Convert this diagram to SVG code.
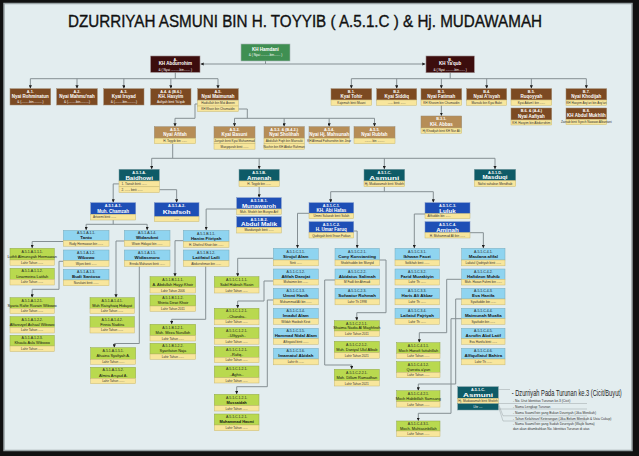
<svg xmlns="http://www.w3.org/2000/svg" width="639" height="456" viewBox="0 0 639 456">
<style>
.f{font-family:"Liberation Sans",Arial,Helvetica,sans-serif;text-anchor:middle}
.L{font-size:3.8px;font-weight:bold;fill:#fff}
.N{font-size:4.5px;font-weight:bold;fill:#fff}
.S{font-size:3.2px;fill:#fff}
.NB{font-size:6.2px;font-weight:bold;fill:#fff}
.l{font-size:3.5px;fill:#222}
.n{font-size:4.4px;font-weight:bold;fill:#111}
.g{font-size:3.9px;fill:#111}
.s{font-size:3.1px;fill:#333}
.sl{text-anchor:start}
.mar{fill:#3c0d0d;stroke:#9a8a8a;stroke-width:.6}
.grn{fill:#3f8f52;stroke:#a9b5b5;stroke-width:.6}
.brn{fill:#7c4a22;stroke:#a08a70;stroke-width:.5}
.tan{fill:#b68d57;stroke:#9a8a70;stroke-width:.5}
.tea{fill:#0e5b67;stroke:#7a9aa0;stroke-width:.5}
.blu{fill:#1e4fb6;stroke:#7f95c8;stroke-width:.5}
.lb{fill:#8fd4f0;stroke:#7aaabb;stroke-width:.5}
.lm{fill:#b9d94f;stroke:#8fa748;stroke-width:.5}
.ye{fill:#f8e69c;stroke:#c8b870;stroke-width:.5}
.c{fill:none;stroke:#858f93;stroke-width:1}
.a{marker-end:url(#ar)}
.lg{fill:none;stroke:#8a9396;stroke-width:.4}
</style>
<defs>
<marker id="ar" viewBox="0 0 6 6" refX="6" refY="3" markerWidth="3.2" markerHeight="3.2" markerUnits="userSpaceOnUse" orient="auto"><path d="M0,0L6,3L0,6z" fill="#1c1c1c"/></marker>
</defs>
<rect x="0" y="0" width="639" height="456" fill="#111"/>
<rect x="4" y="3.5" width="628" height="447" fill="#e3edef" stroke="#9aa4a6" stroke-width="1.5"/>
<g class="f">
<text x="305" y="27" font-size="16.5" fill="#111" stroke="#111" stroke-width="0.35" textLength="474" lengthAdjust="spacingAndGlyphs">DZURRIYAH  ASMUNI BIN H. TOYYIB ( A.5.1.C ) &amp; Hj. MUDAWAMAH</text>

<g id="connectors">
<path class="c" d="M265.5,61V64"/>
<path class="c a" d="M265.5,64H200.5"/>
<path class="c a" d="M265.5,64H425.5"/>
<path class="c" d="M175.3,72.3V78.7M30.35,78.7H218M450.2,72.7V78.7M351.35,78.7H586.35"/>
<path class="c a" d="M30.35,78.7V88.5"/><path class="c a" d="M77,78.7V88.5"/><path class="c a" d="M123.85,78.7V88.5"/><path class="c a" d="M170.85,78.7V88.5"/><path class="c a" d="M218,78.7V88.5"/>
<path class="c a" d="M351.35,78.7V88.5"/><path class="c a" d="M396.7,78.7V88.5"/><path class="c a" d="M441.35,78.7V88.5"/><path class="c a" d="M486.7,78.7V88.5"/><path class="c a" d="M531.35,78.7V88.5"/><path class="c a" d="M586.35,78.7V88.5"/>
<path class="c a" d="M441.35,105.3V115.8"/>
<path class="c a" d="M197.7,104H195V118.3H175V126.5"/>
<path class="c" d="M238.3,109H247.3V118.3M234.5,118.3H374.5"/>
<path class="c a" d="M234.5,118.3V126.5"/><path class="c a" d="M284.15,118.3V126.5"/><path class="c a" d="M329.15,118.3V126.5"/><path class="c a" d="M374.5,118.3V126.5"/>
<path class="c" d="M172.7,143.7V158.3M151.7,158.3H495"/>
<path class="c a" d="M151.7,158.3V169.1"/><path class="c a" d="M259.15,158.3V169.1"/><path class="c a" d="M384.35,158.3V169.1"/><path class="c a" d="M495,158.3V169.1"/>
<path class="c a" d="M119,183.9H113.2V202.5"/>
<path class="c a" d="M159.3,189.7H176.65V202.5"/>
<path class="c a" d="M259.15,186.7V197.5"/>
<path class="c" d="M384.35,186.8V191.7M330.7,191.7H433.3"/>
<path class="c a" d="M330.7,191.7V202.5"/><path class="c a" d="M433.3,191.7V202.5"/>
<path class="c" d="M113.2,220V224.3M86.15,224.3H147.15"/>
<path class="c a" d="M86.15,224.3V230.1"/><path class="c a" d="M147.15,224.3V230.1"/>
<path class="c a" d="M236.7,209H206.15V230.1"/>
<path class="c a" d="M309,213.3H297.5V248.1"/>
<path class="c a" d="M353.7,231H357.15V248.1"/>
<path class="c a" d="M425,214H414.3V248.1"/>
<path class="c a" d="M470,232.7H483.35V248.1"/>
<path class="c a" d="M63.3,241.5H32.15V248.1"/>
<path class="c a" d="M63.3,261.3H59V289.3H32.15V297.5"/>
<path class="c a" d="M124.3,241H116V297.5"/>
<path class="c a" d="M139.3,266.3V343.5H114.3V347.5"/>
<path class="c a" d="M183.3,240.7H175V276.5"/>
<path class="c a" d="M205.7,266.3V319.3H171.7V324.1"/>
<path class="c a" d="M273.3,258.3H237.7V276.5"/>
<path class="c a" d="M273.3,281H264V301H237.7V308.1"/>
<path class="c a" d="M273.3,300H267.3V386.7H236.7V394.1"/>
<path class="c a" d="M379.3,260H386V312.7H356.8V320.5"/>
<path class="c a" d="M335,280H324.7V365H351.7V369.1"/>
<path class="c a" d="M461.7,279.3H446.7V332.7H419.3V342.5"/>
<path class="c a" d="M461.7,299H455.7V384H418.3V390.5"/>
<path class="c a" d="M461.7,318.7H451V413.3H418.3V420.8"/>
</g>

<g id="hamdani"><rect class="grn" x="241" y="44" width="49" height="17"/><text class="N" x="265.5" y="51" font-size="5px">KH Hamdani</text><text class="S" x="265.5" y="56.3">&amp; ( Nyai ..........bin....... )</text></g>
<g id="a"><rect class="mar" x="150.7" y="56" width="49.3" height="16.3"/><text class="L" x="175.3" y="60.5">A.</text><text class="N" x="175.3" y="65.3" font-size="5.2px">KH Abdurrohim</text><text class="S" x="175.3" y="70.5">&amp; ( Nyai ..........bin....... )</text></g>
<g id="b"><rect class="mar" x="426" y="56" width="48.3" height="16.7"/><text class="L" x="450.2" y="60.5">B.</text><text class="N" x="450.2" y="65.3" font-size="5.2px">KH Ya'qub</text><text class="S" x="450.2" y="70.7">&amp; ( Nyai ..........bin....... )</text></g>

<g id="a1"><rect class="brn" x="10" y="88.7" width="40.7" height="16.3"/><text class="L" x="30.35" y="92.7">A.1.</text><text class="N" x="30.35" y="97.7">Nyai Rohminatun</text><text class="S" x="30.35" y="103.4">&amp; (.........bin..........)</text></g>
<g id="a2"><rect class="brn" x="56.7" y="88.7" width="40.6" height="16.3"/><text class="L" x="77" y="92.7">A.2.</text><text class="N" x="77" y="97.7">Nyai Mahmu'nah</text><text class="S" x="77" y="103.4">&amp; (.........bin..........)</text></g>
<g id="a3"><rect class="brn" x="103.7" y="88.7" width="40.3" height="16.3"/><text class="L" x="123.85" y="92.7">A.3.</text><text class="N" x="123.85" y="97.7">Kyai Irsyad</text><text class="S" x="123.85" y="103.4">&amp; (.........bin..........)</text></g>
<g id="a4"><rect class="brn" x="150.7" y="88.7" width="40.3" height="16.3"/><text class="L" x="170.85" y="92.7">A.4. &amp; (B.6.)</text><text class="N" x="170.85" y="97.7">KH. Hasyim</text><text class="S" x="170.85" y="103.4">Aafiyah binti Ya'qub</text></g>
<g id="a5"><rect class="brn" x="197.7" y="88.7" width="40.6" height="11.3"/><text class="L" x="218" y="92.7">A.5.</text><text class="N" x="218" y="97.7">Nyai Maimunah</text><rect class="ye" x="197.7" y="100.5" width="40.6" height="5.5"/><text class="s" x="218" y="104.4">Hadiullah bin Mat Aseen</text><rect class="ye" x="197.7" y="106" width="40.6" height="5.5"/><text class="s" x="218" y="109.9">KH Khoiri bin Chumaidin</text></g>

<g id="b1"><rect class="brn" x="331" y="88.7" width="40.7" height="11.3"/><text class="L" x="351.35" y="92.7">B.1.</text><text class="N" x="351.35" y="97.7">Kyai Tohir</text><rect class="ye" x="331" y="100" width="40.7" height="5.3"/><text class="s" x="351.35" y="103.8">Kajemah binti Muani</text></g>
<g id="b2"><rect class="brn" x="376.7" y="88.7" width="40" height="11.3"/><text class="L" x="396.7" y="92.7">B.2.</text><text class="N" x="396.7" y="97.7">Kyai Siddiq</text><rect class="ye" x="376.7" y="100" width="40" height="5.3"/><text class="s" x="396.7" y="103.8">...... binti ......</text></g>
<g id="b3"><rect class="brn" x="421" y="88.7" width="40.7" height="11.3"/><text class="L" x="441.35" y="92.7">B.3.</text><text class="N" x="441.35" y="97.7">Nyai Fatimah</text><rect class="ye" x="421" y="100" width="40.7" height="5.3"/><text class="s" x="441.35" y="103.8">KH Khosim bin Chumaidin</text></g>
<g id="b4"><rect class="brn" x="466.7" y="88.7" width="40" height="11.3"/><text class="L" x="486.7" y="92.7">B.4.</text><text class="N" x="486.7" y="97.7">Nyai A'isyah</text><rect class="ye" x="466.7" y="100" width="40" height="5.3"/><text class="s" x="486.7" y="103.8">Marsuki bin Kyai Bakri</text></g>
<g id="b5"><rect class="brn" x="511" y="88.7" width="40.7" height="11.3"/><text class="L" x="531.35" y="92.7">B.5.</text><text class="N" x="531.35" y="97.9" font-size="5.2px">Ruqoyyah</text><rect class="ye" x="511" y="100" width="40.7" height="5.3"/><text class="s" x="531.35" y="103.8">Kyai Adam'i bin ......</text></g>
<g id="b7"><rect class="brn" x="566" y="88.7" width="40.7" height="11.3"/><text class="L" x="586.35" y="92.7">B.7.</text><text class="N" x="586.35" y="97.7">Nyai Khodijah</text><rect class="ye" x="566" y="100" width="40.7" height="5.3"/><text class="s" x="586.35" y="103.8">KH Hasyim Asy'ari bin Asy'ari</text></g>
<g id="b6"><rect class="brn" x="511" y="108" width="40.7" height="12"/><text class="L" x="531.35" y="112.2">B.6. &amp; (A.4.)</text><text class="N" x="531.35" y="117.6">Nyai Aafiyah</text><rect class="ye" x="511" y="120" width="40.7" height="5"/><text class="s" x="531.35" y="123.6">KH. Hasyim bin Abdurrohim</text></g>
<g id="b8"><rect class="brn" x="566" y="108" width="40.7" height="11.3"/><text class="L" x="586.35" y="112.2">B.8.</text><text class="N" x="586.35" y="117.3" font-size="4.1px">KH Abdul Mukhlih</text><rect class="ye" x="566" y="119.3" width="40.7" height="5.4"/><text class="s" x="586.35" y="123.1" font-size="2.7px">Zainab binti Syech Nawawi Albantani</text></g>
<g id="b3_1"><rect class="tan" x="421" y="116" width="40.7" height="12"/><text class="L" x="441.35" y="120.2">B.3.1.</text><text class="N" x="441.35" y="125.8" font-size="5px">KH. Abbas</text><rect class="ye" x="421" y="128" width="40.7" height="5.3"/><text class="s" x="441.35" y="131.8">Hj Khodijah binti KH Nur Ali</text></g>

<g id="a5_1"><rect class="tan" x="154.3" y="126.7" width="41.4" height="11.5"/><text class="L" x="175" y="130.8">A.5.1.</text><text class="N" x="175" y="135.9">Nyai Afifah</text><rect class="ye" x="154.3" y="138.2" width="41.4" height="5.5"/><text class="s" x="175" y="142.1">H. Toyyib bin ......</text></g>
<g id="a5_2"><rect class="tan" x="214" y="126.7" width="41" height="11.5"/><text class="L" x="234.5" y="130.8">A.5.2.</text><text class="N" x="234.5" y="135.9">Kyai Basuni</text><rect class="ye" x="214" y="138.2" width="41" height="5.5"/><text class="s" x="234.5" y="142.1">Juriyah binti Kyai Muhammad</text><rect class="ye" x="214" y="143.7" width="41" height="5.5"/><text class="s" x="234.5" y="147.6">Masyqurah binti ......</text></g>
<g id="a5_3"><rect class="tan" x="264" y="126.7" width="40.3" height="11.5"/><text class="L" x="284.15" y="130.8">A.5.3. &amp; (B.4.2.)</text><text class="N" x="284.15" y="135.9">Nyai Sholihah</text><rect class="ye" x="264" y="138.2" width="40.3" height="5.5"/><text class="s" x="284.15" y="142.1">Abdullah Fiqih bin Mansuki</text><rect class="ye" x="264" y="143.7" width="40.3" height="5.5"/><text class="s" x="284.15" y="147.6">Nuchin bin KH Abdur Rahman</text></g>
<g id="a5_4"><rect class="tan" x="309" y="126.7" width="40.3" height="11.5"/><text class="L" x="329.15" y="130.8">A.5.4.</text><text class="N" x="329.15" y="135.9">Nyai Hj. Mahsunah</text><rect class="ye" x="309" y="138.2" width="40.3" height="5.5"/><text class="s" x="329.15" y="142.1" font-size="2.8px">KH Ahmad Fathurrohin bin Jinar</text></g>
<g id="a5_5"><rect class="tan" x="354" y="126.7" width="41" height="11.5"/><text class="L" x="374.5" y="130.8">A.5.5.</text><text class="N" x="374.5" y="135.9">Nyai Rubfah</text><rect class="ye" x="354" y="138.2" width="41" height="5.5"/><text class="s" x="374.5" y="142.1">........ bin ........</text></g>

<g id="a5_1_a"><rect class="tea" x="119" y="169.3" width="40.3" height="11.7"/><text class="L" x="139.15" y="173.7">A.5.1.A.</text><text class="NB" x="139.15" y="179.6">Baidhowi</text><rect class="ye" x="119" y="181" width="40.3" height="5.8"/><text class="s sl" x="121.5" y="185">1. Tianah binti ......</text><rect class="ye" x="119" y="186.8" width="40.3" height="5.8"/><text class="s sl" x="121.5" y="190.8">2. ...... binti ......</text></g>
<g id="a5_1_b"><rect class="tea" x="239" y="169.3" width="40.3" height="11.7"/><text class="L" x="259.15" y="173.7">A.5.1.B.</text><text class="NB" x="259.15" y="179.6">Amenah</text><rect class="ye" x="239" y="181" width="40.3" height="5.7"/><text class="s" x="259.15" y="184.9">H. Toyyib bin ......</text></g>
<g id="a5_1_c"><rect class="tea" x="364" y="169.3" width="40.7" height="11.7"/><text class="L" x="384.35" y="173.7">A.5.1.C.</text><text class="NB" x="384.35" y="179.6" textLength="30" lengthAdjust="spacingAndGlyphs">Asmuni</text><rect class="ye" x="364" y="181" width="40.7" height="5.7"/><text class="s" x="384.35" y="184.9">Hj. Mudawamah binti Sholeh</text></g>
<g id="a5_1_d"><rect class="tea" x="474.3" y="169.3" width="41.4" height="11.4"/><text class="L" x="495" y="173.7">A.5.1.D.</text><text class="NB" x="495" y="179.4">Masduqi</text><rect class="ye" x="474.3" y="180.7" width="41.4" height="5.7"/><text class="s" x="495" y="184.6">Nafisi sahabun Mendhab</text></g>

<g id="a5_1_a_1"><rect class="blu" x="90.7" y="202.7" width="45" height="11.6"/><text class="L" x="113.2" y="207">A.5.1.A.1.</text><text class="N" x="113.2" y="212.6" font-size="5.3px">Muh. Chamzah</text><rect class="ye" x="90.7" y="214.3" width="45" height="5.7"/><text class="s sl" x="93" y="218.2">Artoemi binti ......</text></g>
<g id="a5_1_a_2"><rect class="blu" x="154.3" y="202.7" width="44.7" height="14"/><text class="L" x="176.65" y="207">A.5.1.A.2.</text><text class="NB" x="176.65" y="214" font-size="6.6px" textLength="28" lengthAdjust="spacingAndGlyphs">Khafsoh</text><rect class="ye" x="154.3" y="216.7" width="44.7" height="4.8"/><text class="s" x="176.65" y="220">......</text></g>
<g id="a5_1_b_1"><rect class="blu" x="236.7" y="197.7" width="44.6" height="11.3"/><text class="L" x="259" y="201.9">A.5.1.B.1.</text><text class="NB" x="259" y="207.7" textLength="34" lengthAdjust="spacingAndGlyphs">Munawaroh</text><rect class="ye" x="236.7" y="209" width="44.6" height="5.3"/><text class="s" x="259" y="212.8" font-size="2.8px">Muh. Sholeh bin Busyro Arif</text></g>
<g id="a5_1_b_2"><rect class="blu" x="236.7" y="216.7" width="44.6" height="10.6"/><text class="L" x="259" y="220.7">A.5.1.B.2.</text><text class="NB" x="259" y="226.2" textLength="36" lengthAdjust="spacingAndGlyphs">Abdul Malik</text><rect class="ye" x="236.7" y="227.3" width="44.6" height="5.7"/><text class="s" x="259" y="231.2">Masdaniyah binti ......</text></g>
<g id="a5_1_c_1"><rect class="blu" x="309" y="202.7" width="44.7" height="10.6"/><text class="L" x="331.35" y="206.7">A.5.1.C.1.</text><text class="N" x="331.35" y="212.1" font-size="5.3px">KH. Abi Hafas</text><rect class="ye" x="309" y="213.3" width="44.7" height="5.4"/><text class="s" x="331.35" y="217.1">Ummi Sulaeah binti Sulah</text></g>
<g id="a5_1_c_2"><rect class="blu" x="309" y="221.7" width="44.7" height="11"/><text class="L" x="331.35" y="225.8">A.5.1.C.2.</text><text class="N" x="331.35" y="231.4" font-size="5.3px">H. Umar Faruq</text><rect class="ye" x="309" y="232.7" width="44.7" height="5.3"/><text class="s" x="331.35" y="236.5">Qudsiyah binti Ihsan Fatkan</text></g>
<g id="a5_1_c_3"><rect class="blu" x="425" y="202.7" width="45" height="11"/><text class="L" x="447.5" y="206.8">A.5.1.C.3.</text><text class="NB" x="447.5" y="212.5">Luluk</text><rect class="ye" x="425" y="213.7" width="45" height="5"/><text class="s sl" x="427.5" y="217.3">Afifuddin bin ......</text></g>
<g id="a5_1_c_4"><rect class="blu" x="425" y="221.7" width="45" height="11"/><text class="L" x="447.5" y="225.8">A.5.1.C.4.</text><text class="NB" x="447.5" y="231.5">Aminah</text><rect class="ye" x="425" y="232.7" width="45" height="5.3"/><text class="s" x="447.5" y="236.5">H. Muhammad Ali bin ......</text></g>

<g id="a5_1_a_1_1"><rect class="lb" x="63.3" y="230.3" width="45.7" height="10.4"/><text class="l" x="86.15" y="234.3">A.5.1.A.1.1.</text><text class="n" x="86.15" y="239.3">Tanto</text><rect class="ye" x="63.3" y="240.7" width="45.7" height="5.5"/><text class="s" x="86.15" y="244.6">Rudy Hermawan bin ......</text></g>
<g id="a5_1_a_1_2"><rect class="lb" x="63.3" y="250" width="45.7" height="10.7"/><text class="l" x="86.15" y="254">A.5.1.A.1.2.</text><text class="n" x="86.15" y="259">Wibowo</text><rect class="ye" x="63.3" y="260.7" width="45.7" height="5.6"/><text class="s" x="86.15" y="264.6">Wijoni binti ......</text></g>
<g id="a5_1_a_1_3"><rect class="lb" x="63.3" y="269.3" width="45.7" height="10.7"/><text class="l" x="86.15" y="273.3">A.5.1.A.1.3.</text><text class="n" x="86.15" y="278.3">Budi Santoso</text><rect class="ye" x="63.3" y="280" width="45.7" height="5.7"/><text class="s" x="86.15" y="283.9">Nurulaini binti ......</text></g>
<g id="a5_1_a_1_4"><rect class="lb" x="124.3" y="230.3" width="45.7" height="10.4"/><text class="l" x="147.15" y="234.3">A.5.1.A.1.4.</text><text class="n" x="147.15" y="239.3">Widarukmi</text><rect class="ye" x="124.3" y="240.7" width="45.7" height="5.5"/><text class="s" x="147.15" y="244.6">Wiwin Hidayat bin ......</text></g>
<g id="a5_1_a_1_5"><rect class="lb" x="124.3" y="250" width="45.7" height="10.7"/><text class="l" x="147.15" y="254">A.5.1.A.1.5.</text><text class="n" x="147.15" y="259">Widiasmoro</text><rect class="ye" x="124.3" y="260.7" width="45.7" height="5.6"/><text class="s" x="147.15" y="264.6">Erinda Maharani binti ......</text></g>
<g id="a5_1_b_1_1"><rect class="lb" x="183.3" y="230.3" width="45.7" height="11.4"/><text class="l" x="206.15" y="234.6">A.5.1.B.1.1.</text><text class="n" x="206.15" y="239.8">Hanim Fitriyah</text><rect class="ye" x="183.3" y="241.7" width="45.7" height="5.6"/><text class="s" x="206.15" y="245.6">H. Dhofirul Khoiri bin ......</text></g>
<g id="a5_1_b_1_2"><rect class="lb" x="183.3" y="250" width="45.7" height="10.7"/><text class="l" x="206.15" y="254">A.5.1.B.1.2.</text><text class="n" x="206.15" y="259">Latifatul Laili</text><rect class="ye" x="183.3" y="260.7" width="45.7" height="5.6"/><text class="s" x="206.15" y="264.6">Abdurrohman bin ......</text></g>

<g id="a5_1_c_1_1"><rect class="lb" x="273.3" y="248.3" width="45" height="11.7"/><text class="l" x="295.8" y="252.6">A.5.1.C.1.1.</text><text class="n" x="295.8" y="258">Sirojul Alam</text><rect class="ye" x="273.3" y="260" width="45" height="5.8"/><text class="s" x="295.8" y="264">Sinti ......</text></g>
<g id="a5_1_c_1_2"><rect class="lb" x="273.3" y="269" width="45" height="10.3"/><text class="l" x="295.8" y="273">A.5.1.C.1.2.</text><text class="n" x="295.8" y="277.8">Afifah Darojat</text><rect class="ye" x="273.3" y="279.3" width="45" height="5.7"/><text class="s" x="295.8" y="283.2">Muhaimin bin ......</text></g>
<g id="a5_1_c_1_3"><rect class="lb" x="273.3" y="288.3" width="45" height="10.7"/><text class="l" x="295.8" y="292.3">A.5.1.C.1.3.</text><text class="n" x="295.8" y="297.3">Ummi Hanik</text><rect class="ye" x="273.3" y="299" width="45" height="5.8"/><text class="s" x="295.8" y="303">Muhammad Ali bin ......</text></g>
<g id="a5_1_c_1_4"><rect class="lb" x="273.3" y="308.3" width="45" height="10.4"/><text class="l" x="295.8" y="312.3">A.5.1.C.1.4.</text><text class="n" x="295.8" y="317.2">Imadul Alam</text><rect class="ye" x="273.3" y="318.7" width="45" height="5.6"/><text class="s" x="295.8" y="322.6">Wildah Hasibah Kirot</text></g>
<g id="a5_1_c_1_5"><rect class="lb" x="273.3" y="328.3" width="45" height="10.4"/><text class="l" x="295.8" y="332.3">A.5.1.C.1.5.</text><text class="n" x="295.8" y="337.2">Hammad Nidal Alam</text><rect class="ye" x="273.3" y="338.7" width="45" height="5.6"/><text class="s" x="295.8" y="342.6">Alfisyatul binti ......</text></g>
<g id="a5_1_c_1_6"><rect class="lb" x="273.3" y="348.3" width="45" height="10.7"/><text class="l" x="295.8" y="352.3">A.5.1.C.1.6.</text><text class="n" x="295.8" y="357.3" font-size="3.9px">Imamatul Abidah</text><rect class="ye" x="273.3" y="359" width="45" height="5.8"/><text class="s" x="295.8" y="363">Lahir th ......</text></g>

<g id="a5_1_c_2_1"><rect class="lb" x="335" y="248.3" width="44.3" height="11.7"/><text class="l" x="357.15" y="252.6">A.5.1.C.2.1.</text><text class="n" x="357.15" y="258">Cony Konstanting</text><rect class="ye" x="335" y="260" width="44.3" height="5.8"/><text class="s" x="357.15" y="264">Sholehuddin bin Munyid</text></g>
<g id="a5_1_c_2_2"><rect class="lb" x="335" y="269" width="44.3" height="10.3"/><text class="l" x="357.15" y="273">A.5.1.C.2.2.</text><text class="n" x="357.15" y="277.8">Abidatus Salimah</text><rect class="ye" x="335" y="279.3" width="44.3" height="5.7"/><text class="s" x="357.15" y="283.2">M Fadli bin Ahmadi</text></g>
<g id="a5_1_c_2_3"><rect class="lb" x="335" y="288.3" width="44.3" height="10.7"/><text class="l" x="357.15" y="292.3">A.5.1.C.2.3.</text><text class="n" x="357.15" y="297.3">Sofwatur Rohmah</text><rect class="ye" x="335" y="299" width="44.3" height="5.8"/><text class="s" x="357.15" y="303">Lahir Th 1998</text></g>

<g id="a5_1_c_3_1"><rect class="lb" x="395" y="248.3" width="44.3" height="11.7"/><text class="l" x="417.15" y="252.6">A.5.1.C.3.1.</text><text class="n" x="417.15" y="258">Ikhwan Fauzi</text><rect class="ye" x="395" y="260" width="44.3" height="5.8"/><text class="s" x="417.15" y="264">Solikhah binti ......</text></g>
<g id="a5_1_c_3_2"><rect class="lb" x="395" y="269" width="44.3" height="10.3"/><text class="l" x="417.15" y="273">A.5.1.C.3.2.</text><text class="n" x="417.15" y="277.8">Farid Muzakiyin</text><rect class="ye" x="395" y="279.3" width="44.3" height="5.7"/><text class="s" x="417.15" y="283.2">Lahir Th ......</text></g>
<g id="a5_1_c_3_3"><rect class="lb" x="395" y="288.3" width="44.3" height="10.7"/><text class="l" x="417.15" y="292.3">A.5.1.C.3.3.</text><text class="n" x="417.15" y="297.3">Haris Ali Akbar</text><rect class="ye" x="395" y="299" width="44.3" height="5.8"/><text class="s" x="417.15" y="303">Lahir Th ......</text></g>
<g id="a5_1_c_3_4"><rect class="lb" x="395" y="308.3" width="44.3" height="10.4"/><text class="l" x="417.15" y="312.3">A.5.1.C.3.4.</text><text class="n" x="417.15" y="317.2">Lailatul Fajriyah</text><rect class="ye" x="395" y="318.7" width="44.3" height="5.6"/><text class="s" x="417.15" y="322.6">Lahir Th ......</text></g>

<g id="a5_1_c_4_1"><rect class="lb" x="461.7" y="248.3" width="43.3" height="11.7"/><text class="l" x="483.35" y="252.6">A.5.1.C.4.1.</text><text class="n" x="483.35" y="258">Maulana afifal</text><rect class="ye" x="461.7" y="260" width="43.3" height="5.8"/><text class="s" x="483.35" y="264" font-size="2.8px">Lailatul Qodriyah binti ......</text></g>
<g id="a5_1_c_4_2"><rect class="lb" x="461.7" y="269" width="43.3" height="10.3"/><text class="l" x="483.35" y="273">A.5.1.C.4.2.</text><text class="n" x="483.35" y="277.8">Hafidzon Muhib</text><rect class="ye" x="461.7" y="279.3" width="43.3" height="5.7"/><text class="s" x="483.35" y="283.2">Muh. Hasan Fahmi bin ......</text></g>
<g id="a5_1_c_4_3"><rect class="lb" x="461.7" y="288.3" width="43.3" height="10.7"/><text class="l" x="483.35" y="292.3">A.5.1.C.4.3.</text><text class="n" x="483.35" y="297.3">Eva Hanifa</text><rect class="ye" x="461.7" y="299" width="43.3" height="5.8"/><text class="s" x="483.35" y="303">Syaifuddin bin ......</text></g>
<g id="a5_1_c_4_4"><rect class="lb" x="461.7" y="308.3" width="43.3" height="10.4"/><text class="l" x="483.35" y="312.3">A.5.1.C.4.4.</text><text class="n" x="483.35" y="317.2">Maimunah Muafia</text><rect class="ye" x="461.7" y="318.7" width="43.3" height="5.6"/><text class="s" x="483.35" y="322.6">Syaifudin bin ......</text></g>
<g id="a5_1_c_4_5"><rect class="lb" x="461.7" y="328.3" width="43.3" height="10.4"/><text class="l" x="483.35" y="332.3">A.5.1.C.4.5.</text><text class="n" x="483.35" y="337.2">Asrofin Abd Latif</text><rect class="ye" x="461.7" y="338.7" width="43.3" height="5.6"/><text class="s" x="483.35" y="342.6">Eva Hanifa binti ......</text></g>
<g id="a5_1_c_4_6"><rect class="lb" x="461.7" y="348.3" width="43.3" height="10.7"/><text class="l" x="483.35" y="352.3">A.5.1.C.4.6.</text><text class="n" x="483.35" y="357.3" font-size="3.9px">Alfiqullatul Bahira</text><rect class="ye" x="461.7" y="359" width="43.3" height="5.8"/><text class="s" x="483.35" y="363">Lahir Th ......</text></g>

<g id="g_a1111"><rect class="lm" x="10" y="248.3" width="44.3" height="11.7"/><text class="l" x="32.15" y="252.6">A.5.1.A.1.1.1.</text><text class="g" x="32.15" y="257.9" font-size="3.3px">Luthfi Almunsyah Hermawan</text><rect class="ye" x="10" y="260" width="44.3" height="5.3"/><text class="s" x="32.15" y="263.8">Lahir Tahun ......</text></g>
<g id="g_a1112"><rect class="lm" x="10" y="268.3" width="44.3" height="11"/><text class="l" x="32.15" y="272.4">A.5.1.A.1.1.2.</text><text class="g" x="32.15" y="277.5">Linarmeina Latifah</text><rect class="ye" x="10" y="279.3" width="44.3" height="5.7"/><text class="s" x="32.15" y="283.2">Lahir Tahun ......</text></g>
<g id="g_a1121"><rect class="lm" x="10" y="297.7" width="44.3" height="10.6"/><text class="l" x="32.15" y="301.7">A.5.1.A.1.2.1.</text><text class="g" x="32.15" y="306.6" font-size="3.3px">Syaria Rafie Ruzain Wibowo</text><rect class="ye" x="10" y="308.3" width="44.3" height="5.4"/><text class="s" x="32.15" y="312.1">Lahir Tahun ......</text></g>
<g id="g_a1122"><rect class="lm" x="10" y="316.7" width="44.3" height="10.6"/><text class="l" x="32.15" y="320.7">A.5.1.A.1.2.2.</text><text class="g" x="32.15" y="325.6" font-size="3.4px">Alfarezyel Ashaal Wibowo</text><rect class="ye" x="10" y="327.3" width="44.3" height="5.7"/><text class="s" x="32.15" y="331.2">Lahir Tahun ......</text></g>
<g id="g_a1123"><rect class="lm" x="10" y="335.3" width="44.3" height="10.7"/><text class="l" x="32.15" y="339.3">A.5.1.A.1.2.3.</text><text class="g" x="32.15" y="344.3">Khaula Asla Wibowo</text><rect class="ye" x="10" y="346" width="44.3" height="5.5"/><text class="s" x="32.15" y="349.8">Lahir Tahun ......</text></g>
<g id="g_a1141"><rect class="lm" x="90" y="297.7" width="44.3" height="10.6"/><text class="l" x="112.15" y="301.7">A.5.1.A.1.4.1.</text><text class="g" x="112.15" y="306.6" font-size="3.5px">Muh Raisyhaiq Hidayat</text><rect class="ye" x="90" y="308.3" width="44.3" height="5.4"/><text class="s" x="112.15" y="312.1">Lahir Tahun ......</text></g>
<g id="g_a1142"><rect class="lm" x="90" y="316.7" width="44.3" height="10.6"/><text class="l" x="112.15" y="320.7">A.5.1.A.1.4.2.</text><text class="g" x="112.15" y="325.6">Finnia Nadiira</text><rect class="ye" x="90" y="327.3" width="44.3" height="5.7"/><text class="s" x="112.15" y="331.2">Lahir Tahun ......</text></g>
<g id="g_a1151"><rect class="lm" x="90.7" y="347.7" width="45" height="11.6"/><text class="l" x="113.2" y="351.9">A.5.1.A.1.5.1.</text><text class="g" x="113.2" y="357.2">Afsaina Syafiyah A.</text><rect class="ye" x="90.7" y="359.3" width="45" height="5"/><text class="s" x="113.2" y="362.8">Lahir Tahun ......</text></g>
<g id="g_a1152"><rect class="lm" x="90.7" y="367.3" width="45" height="11"/><text class="l" x="113.2" y="371.4">A.5.1.A.1.5.2.</text><text class="g" x="113.2" y="376.5">Almira Arsyad A.</text><rect class="ye" x="90.7" y="378.3" width="45" height="5.4"/><text class="s" x="113.2" y="382.1">Lahir Tahun ......</text></g>

<g id="g_b111"><rect class="lm" x="150" y="276.7" width="45.7" height="11"/><text class="l" x="172.85" y="280.8">A.5.1.B.1.1.1.</text><text class="g" x="172.85" y="285.9" font-size="3.5px">A. Abdullah Hayyi Khoir</text><rect class="ye" x="150" y="287.7" width="45.7" height="5.3"/><text class="s" x="172.85" y="291.5">Lahir Tahun 2006</text></g>
<g id="g_b112"><rect class="lm" x="150" y="295" width="45.7" height="11"/><text class="l" x="172.85" y="299.1">A.5.1.B.1.1.2.</text><text class="g" x="172.85" y="304.2">Shinta Dewi Khoir</text><rect class="ye" x="150" y="306" width="45.7" height="5.3"/><text class="s" x="172.85" y="309.8">Lahir Tahun 2011</text></g>
<g id="g_b121"><rect class="lm" x="150" y="324.3" width="45.7" height="11.4"/><text class="l" x="172.85" y="328.5">A.5.1.B.1.2.1.</text><text class="g" x="172.85" y="333.8">Muh. Mirza Nurulloh</text><rect class="ye" x="150" y="335.7" width="45.7" height="5.3"/><text class="s" x="172.85" y="339.5">Lahir Tahun ......</text></g>
<g id="g_b122"><rect class="lm" x="150" y="343.3" width="45.7" height="10.7"/><text class="l" x="172.85" y="347.3">A.5.1.B.1.2.2.</text><text class="g" x="172.85" y="352.3">Syarifatun Naja</text><rect class="ye" x="150" y="354" width="45.7" height="5.3"/><text class="s" x="172.85" y="357.8">Lahir Tahun ......</text></g>

<g id="g_c111"><rect class="lm" x="214.3" y="276.7" width="44.7" height="11"/><text class="l" x="236.65" y="280.8">A.5.1.C.1.1.1.</text><text class="g" x="236.65" y="285.9">Sabil Habrah Rasin</text><rect class="ye" x="214.3" y="287.7" width="44.7" height="5.3"/><text class="s" x="236.65" y="291.5">Lahir Tahun ......</text></g>
<g id="g_c121"><rect class="lm" x="214.3" y="308.3" width="44.7" height="11"/><text class="l" x="236.65" y="312.4">A.5.1.C.1.2.1.</text><text class="g" x="236.65" y="317.5">..Chandra..</text><rect class="ye" x="214.3" y="319.3" width="44.7" height="5.5"/><text class="s" x="236.65" y="323.2">Lahir Tahun ......</text></g>
<g id="g_c122"><rect class="lm" x="214.3" y="327.7" width="44.7" height="11"/><text class="l" x="236.65" y="331.8">A.5.1.C.1.2.1.</text><text class="g" x="236.65" y="336.9">..Ulfiyyah..</text><rect class="ye" x="214.3" y="338.7" width="44.7" height="5.5"/><text class="s" x="236.65" y="342.6">Lahir Tahun ......</text></g>
<g id="g_c123"><rect class="lm" x="214.3" y="346.7" width="44.7" height="10.6"/><text class="l" x="236.65" y="350.7">A.5.1.C.1.2.1.</text><text class="g" x="236.65" y="355.6">..Rafiq..</text><rect class="ye" x="214.3" y="357.3" width="44.7" height="5.4"/><text class="s" x="236.65" y="361.1">Lahir Tahun ......</text></g>
<g id="g_c124"><rect class="lm" x="214.3" y="366" width="44.7" height="11.7"/><text class="l" x="236.65" y="370.3">A.5.1.C.1.2.1.</text><text class="g" x="236.65" y="375.8">..Aghis..</text><rect class="ye" x="214.3" y="377.7" width="44.7" height="5.3"/><text class="s" x="236.65" y="381.5">Lahir Tahun ......</text></g>
<g id="g_c131"><rect class="lm" x="214.3" y="394.3" width="44.7" height="11.4"/><text class="l" x="236.65" y="398.5">A.5.1.C.1.2.1.</text><text class="g" x="236.65" y="403.8" font-weight="bold">Mussaidah</text><rect class="ye" x="214.3" y="405.7" width="44.7" height="5.3"/><text class="s" x="236.65" y="409.5">Lahir Tahun ......</text></g>
<g id="g_c132"><rect class="lm" x="214.3" y="414" width="44.7" height="11"/><text class="l" x="236.65" y="418.1">A.5.1.C.1.2.1.</text><text class="g" x="236.65" y="423.2" font-weight="bold">Muhammad Hasmi</text><rect class="ye" x="214.3" y="425" width="44.7" height="5.7"/><text class="s" x="236.65" y="428.9">Lahir Tahun ......</text></g>

<g id="g_c211"><rect class="lm" x="334.3" y="320.7" width="45" height="10.3"/><text class="l" x="356.8" y="324.6">A.5.1.C.2.1.1.</text><text class="g" x="356.8" y="329.4" font-size="3.3px">Shaima Nadia Al Maghfiroh</text><rect class="ye" x="334.3" y="331" width="45" height="5.3"/><text class="s" x="356.8" y="334.8">Lahir Tahun 2011</text></g>
<g id="g_c212"><rect class="lm" x="334.3" y="341.3" width="45" height="11.4"/><text class="l" x="356.8" y="345.5">A.5.1.C.2.1.2.</text><text class="g" x="356.8" y="350.8" font-size="3.5px">Muh. Daniyal Ulul Albab</text><rect class="ye" x="334.3" y="352.7" width="45" height="5.6"/><text class="s" x="356.8" y="356.6">Lahir Tahun 2021</text></g>
<g id="g_c221"><rect class="lm" x="334.3" y="369.3" width="45" height="11.4"/><text class="l" x="356.8" y="373.5">A.5.1.C.2.2.1.</text><text class="g" x="356.8" y="378.8" font-size="3.5px">Moh. Dillam Ramadhan</text><rect class="ye" x="334.3" y="380.7" width="45" height="5.3"/><text class="s" x="356.8" y="384.5">Lahir Tahun 2021</text></g>

<g id="g_c421"><rect class="lm" x="396.7" y="342.7" width="43.3" height="10.6"/><text class="l" x="418.35" y="346.7">A.5.1.C.4.1.1.</text><text class="g" x="418.35" y="351.6" font-size="3.4px">Moch Hanofi fattahillah</text><rect class="ye" x="396.7" y="353.3" width="43.3" height="5.4"/><text class="s" x="418.35" y="357.1">Lahir Tahun ......</text></g>
<g id="g_c422"><rect class="lm" x="396.7" y="361.7" width="43.3" height="10.6"/><text class="l" x="418.35" y="365.7">A.5.1.C.4.1.2.</text><text class="g" x="418.35" y="370.6">Qurrota a'yun</text><rect class="ye" x="396.7" y="372.3" width="43.3" height="5.4"/><text class="s" x="418.35" y="376.1">Lahir Tahun ......</text></g>
<g id="g_c431"><rect class="lm" x="396.7" y="390.7" width="43.3" height="11"/><text class="l" x="418.35" y="394.8">A.5.1.C.4.2.1.</text><text class="g" x="418.35" y="399.9" font-size="3.3px">Moch Habibillah Samsang</text><rect class="ye" x="396.7" y="401.7" width="43.3" height="5.4"/><text class="s" x="418.35" y="405.5">Lahir Tahun ......</text></g>
<g id="g_c441"><rect class="lm" x="396.7" y="421" width="43.3" height="10"/><text class="l" x="418.35" y="424.8">A.5.1.C.4.3.1.</text><text class="g" x="418.35" y="429.5" font-size="3.5px">Moch. Muhtasinbillah</text><rect class="ye" x="396.7" y="431" width="43.3" height="5.7"/><text class="s" x="418.35" y="434.9">Lahir Tahun ......</text></g>

<g id="legend">
<path class="lg" d="M498.3,389.5H510M498.3,403.5H587M498.3,409H587M498.3,403.7L503,415.8H587M498.3,406L503,421H587"/>
<rect class="tea" x="457.7" y="386.7" width="40.6" height="11.6"/><text class="L" x="478" y="391">A.5.1.C.</text><text class="NB" x="478" y="396.9" textLength="30" lengthAdjust="spacingAndGlyphs">Asmuni</text>
<rect class="ye" x="457.7" y="398.3" width="40.6" height="5.4"/><text class="s" x="478" y="402.1">Hj. Mudawamah binti Sholeh</text>
<rect class="tea" x="457.7" y="403.7" width="40.6" height="6.3"/><text class="S" x="478" y="408" font-size="2.8px">Lhr ....</text>
<text transform="translate(511.7,395.7) scale(0.64,1)" x="0" y="0" font-size="8.2" fill="#222" class="sl" textLength="172" lengthAdjust="spacingAndGlyphs">- Dzurriyah Pada Turunan ke.3 (Cicit/Buyut)</text>
<g class="sl" font-size="3.3" fill="#333">
<text x="513" y="402.3">- No. Urut Identitas Turunan ke.3 (Cicit)</text>
<text x="513" y="407.8">- Nama Lengkap Turunan</text>
<text x="513" y="414.3">- Nama Suami/Istri yang Bukan Dzurriyah (Jika Menikah)</text>
<text x="513" y="419.5">- Tahun Kelahiran/ Keterangan (Jika Belum Menikah &amp; Usia Cukup)</text>
<text x="513" y="424.5">- Nama Suami/Istri yang Sudah Dzurriyah (Wajib Sama)</text>
<text x="513" y="429.5">  dan akan ditambahkan No. Identitas Turunan di atas</text>
</g>
</g>
</g>
</svg>
